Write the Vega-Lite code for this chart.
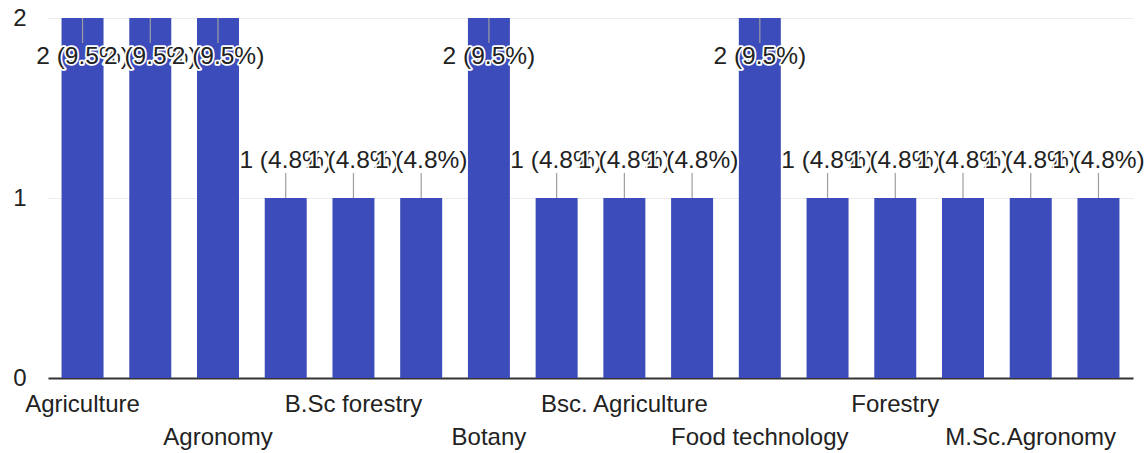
{
  "$schema": "https://vega.github.io/schema/vega-lite/v6.json",
  "width": 1085,
  "height": 360,
  "autosize": {"type": "none"},
  "padding": {"left": 48, "top": 18, "right": 11, "bottom": 75},
  "background": "white",
  "config": {"view": {"stroke": null}, "font": "Liberation Sans"},
  "data": {
    "values": [
      {"category": "Agriculture", "count": 2, "pct": 9.5, "label": "2 (9.5%)"},
      {"category": "Agriculture science", "count": 2, "pct": 9.5, "label": "2 (9.5%)"},
      {"category": "Agronomy", "count": 2, "pct": 9.5, "label": "2 (9.5%)"},
      {"category": "B.Sc Agriculture", "count": 1, "pct": 4.8, "label": "1 (4.8%)"},
      {"category": "B.Sc forestry", "count": 1, "pct": 4.8, "label": "1 (4.8%)"},
      {"category": "B.Sc. Horticulture", "count": 1, "pct": 4.8, "label": "1 (4.8%)"},
      {"category": "Botany", "count": 2, "pct": 9.5, "label": "2 (9.5%)"},
      {"category": "Bsc Forestry", "count": 1, "pct": 4.8, "label": "1 (4.8%)"},
      {"category": "Bsc. Agriculture", "count": 1, "pct": 4.8, "label": "1 (4.8%)"},
      {"category": "Environmental science", "count": 1, "pct": 4.8, "label": "1 (4.8%)"},
      {"category": "Food technology", "count": 2, "pct": 9.5, "label": "2 (9.5%)"},
      {"category": "Forest science", "count": 1, "pct": 4.8, "label": "1 (4.8%)"},
      {"category": "Forestry", "count": 1, "pct": 4.8, "label": "1 (4.8%)"},
      {"category": "Horticulture", "count": 1, "pct": 4.8, "label": "1 (4.8%)"},
      {"category": "M.Sc.Agronomy", "count": 1, "pct": 4.8, "label": "1 (4.8%)"},
      {"category": "Plant pathology", "count": 1, "pct": 4.8, "label": "1 (4.8%)"}
    ]
  },
  "encoding": {
    "x": {
      "field": "category",
      "type": "nominal",
      "sort": null,
      "scale": {"paddingInner": 0.38, "paddingOuter": 0.2},
      "axis": {
        "title": null,
        "labelAngle": 0,
        "domainColor": "#333333",
        "domainWidth": 2,
        "ticks": false,
        "grid": false,
        "labelFontSize": 24,
        "labelColor": "#222222",
        "labelBaseline": "top",
        "labelAlign": "center",
        "labelOverlap": false,
        "labelLimit": 0,
        "labelBound": false,
        "labelExpr": "indexof(['Agriculture','Agronomy','B.Sc forestry','Botany','Bsc. Agriculture','Food technology','Forestry','M.Sc.Agronomy'], datum.value) >= 0 ? datum.value : ''",
        "labelPadding": {
          "condition": {"test": "indexof(['Agronomy','Botany','Food technology','M.Sc.Agronomy'], datum.value) >= 0", "value": 47},
          "value": 14
        }
      }
    },
    "y": {
      "field": "count",
      "type": "quantitative",
      "scale": {"domain": [0, 2], "nice": false},
      "axis": {
        "title": null,
        "tickCount": 2,
        "grid": true,
        "gridColor": "#ececec",
        "domain": false,
        "ticks": false,
        "labelOverlap": false,
        "labelFlush": false,
        "labelFontSize": 24,
        "labelColor": "#222222",
        "labelPadding": 22
      }
    }
  },
  "layer": [
    {
      "mark": {"type": "bar", "color": "#3d4cbb"}
    },
    {
      "transform": [{"filter": "datum.count < 2"}],
      "mark": {"type": "rule", "color": "#9e9e9e", "strokeWidth": 1.2, "y2Offset": -25},
      "encoding": {
        "y2": {"field": "count"}
      }
    },
    {
      "transform": [{"filter": "datum.count >= 2"}],
      "mark": {"type": "rule", "color": "#9e9e9e", "strokeWidth": 1.2, "y2Offset": 25},
      "encoding": {
        "y2": {"field": "count"}
      }
    },
    {
      "transform": [{"filter": "datum.count < 2"}, {"fold": ["count", "pct"]}],
      "mark": {"type": "text", "fontSize": 24.5, "baseline": "middle", "align": "center", "dy": -37, "strokeJoin": "round"},
      "encoding": {
        "text": {"field": "label"},
        "fill": {"condition": {"test": "datum.key === 'count'", "value": "white"}, "value": "#222222"},
        "stroke": {"condition": {"test": "datum.key === 'count'", "value": "white"}, "value": "transparent"},
        "strokeWidth": {"condition": {"test": "datum.key === 'count'", "value": 3.5}, "value": 0}
      }
    },
    {
      "transform": [{"filter": "datum.count >= 2"}, {"fold": ["count", "pct"]}],
      "mark": {"type": "text", "fontSize": 24.5, "baseline": "middle", "align": "center", "dy": 39, "strokeJoin": "round"},
      "encoding": {
        "text": {"field": "label"},
        "fill": {"condition": {"test": "datum.key === 'count'", "value": "white"}, "value": "#222222"},
        "stroke": {"condition": {"test": "datum.key === 'count'", "value": "white"}, "value": "transparent"},
        "strokeWidth": {"condition": {"test": "datum.key === 'count'", "value": 3.5}, "value": 0}
      }
    }
  ]
}
